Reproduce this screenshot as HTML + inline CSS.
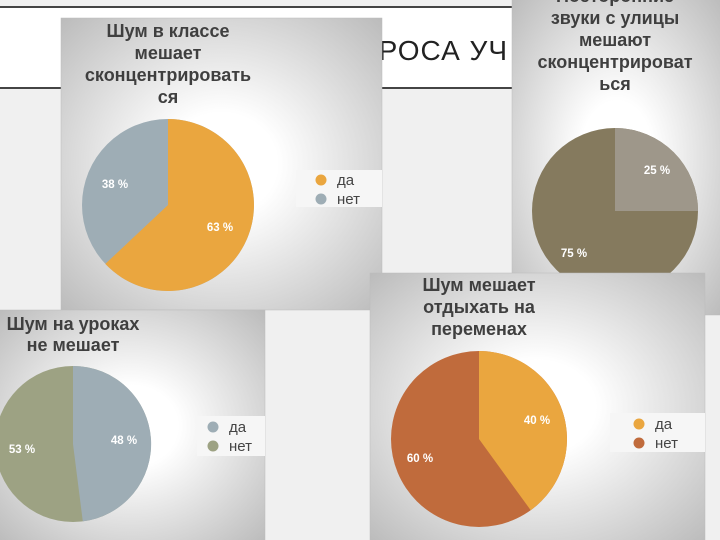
<!DOCTYPE html>
<html><head><meta charset="utf-8"><style>
html,body{margin:0;padding:0;width:720px;height:540px;overflow:hidden;background:#f0f0f0}
svg{display:block}
text{font-family:"Liberation Sans",sans-serif}
.t{font-weight:bold;font-size:18px;fill:#3f3f3f;text-anchor:middle}
.p{font-weight:bold;font-size:11.5px;fill:#fff;text-anchor:middle}
.l{font-size:15px;fill:#444}
</style></head><body>
<svg width="720" height="540" viewBox="0 0 720 540" xmlns="http://www.w3.org/2000/svg">
<defs>
<radialGradient id="g" cx="0.5" cy="0.5" r="0.7">
<stop offset="0.25" stop-color="#ffffff"/><stop offset="1" stop-color="#bcbcbc"/>
</radialGradient>
</defs>
<rect x="0" y="0" width="720" height="540" fill="#f0f0f0"/>
<rect x="0" y="7" width="720" height="81" fill="#fff"/>
<rect x="0" y="6" width="720" height="2" fill="#444"/>
<rect x="0" y="87" width="720" height="2" fill="#444"/>
<text x="508" y="60" font-size="28" fill="#222" text-anchor="end" letter-spacing="1">ОПРОСА УЧ</text>

<!-- chart 1 -->
<rect x="61" y="18" width="321" height="292" fill="url(#g)" stroke="#bbb" stroke-width="0.5"/>
<text class="t" x="168" y="37">Шум в классе</text>
<text class="t" x="168" y="59">мешает</text>
<text class="t" x="168" y="81">сконцентрировать</text>
<text class="t" x="168" y="103">ся</text>
<circle cx="168" cy="205" r="86" fill="#9eadb5"/>
<path d="M168,205 L168,119 A86,86 0 1 1 105.3,263.9 Z" fill="#eaa63f"/>
<text class="p" x="115" y="188">38 %</text>
<text class="p" x="220" y="231">63 %</text>
<rect x="296" y="170" width="86" height="37" fill="#f6f6f6"/>
<circle cx="321" cy="180" r="5.5" fill="#eaa63f"/><text class="l" x="337" y="185">да</text>
<circle cx="321" cy="199" r="5.5" fill="#9eadb5"/><text class="l" x="337" y="204">нет</text>

<!-- chart 2 -->
<rect x="512" y="-2" width="210" height="317" fill="url(#g)" stroke="#bbb" stroke-width="0.5"/>
<text class="t" x="615" y="2">Посторонние</text>
<text class="t" x="615" y="24">звуки с улицы</text>
<text class="t" x="615" y="46">мешают</text>
<text class="t" x="615" y="68">сконцентрироват</text>
<text class="t" x="615" y="90">ься</text>
<circle cx="615" cy="211" r="83" fill="#857a5e"/>
<path d="M615,211 L615,128 A83,83 0 0 1 698,211 Z" fill="#9e978a"/>
<text class="p" x="657" y="174">25 %</text>
<text class="p" x="574" y="257">75 %</text>

<!-- chart 3 -->
<rect x="-2" y="310" width="267" height="232" fill="url(#g)" stroke="#bbb" stroke-width="0.5"/>
<text class="t" x="73" y="330">Шум на уроках</text>
<text class="t" x="73" y="351">не мешает</text>
<circle cx="73" cy="444" r="78" fill="#9da283"/>
<path d="M73,444 L73,366 A78,78 0 0 1 82.8,521.4 Z" fill="#9eadb5"/>
<text class="p" x="124" y="444">48 %</text>
<text class="p" x="22" y="453">53 %</text>
<rect x="197" y="416" width="68" height="40" fill="#f6f6f6"/>
<circle cx="213" cy="427" r="5.5" fill="#9eadb5"/><text class="l" x="229" y="432">да</text>
<circle cx="213" cy="446" r="5.5" fill="#9da283"/><text class="l" x="229" y="451">нет</text>

<!-- chart 4 -->
<rect x="370" y="273" width="335" height="269" fill="url(#g)" stroke="#bbb" stroke-width="0.5"/>
<text class="t" x="479" y="291">Шум мешает</text>
<text class="t" x="479" y="313">отдыхать на</text>
<text class="t" x="479" y="335">переменах</text>
<circle cx="479" cy="439" r="88" fill="#c06b3c"/>
<path d="M479,439 L479,351 A88,88 0 0 1 530.7,510.2 Z" fill="#eaa63f"/>
<text class="p" x="537" y="424">40 %</text>
<text class="p" x="420" y="462">60 %</text>
<rect x="610" y="413" width="95" height="39" fill="#f6f6f6"/>
<circle cx="639" cy="424" r="5.5" fill="#eaa63f"/><text class="l" x="655" y="429">да</text>
<circle cx="639" cy="443" r="5.5" fill="#c06b3c"/><text class="l" x="655" y="448">нет</text>
</svg>
</body></html>
